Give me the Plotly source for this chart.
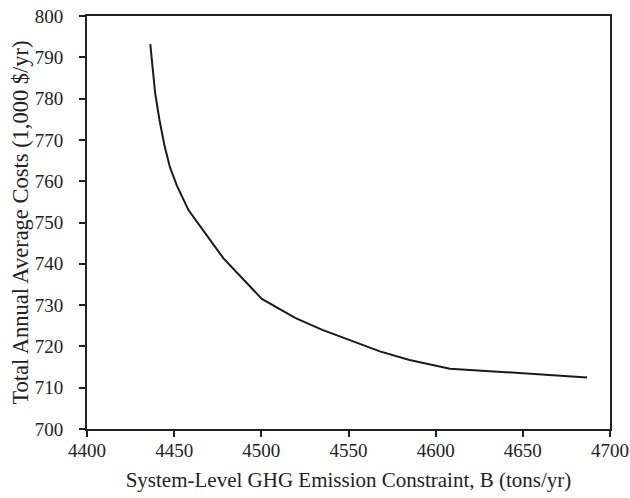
import plotly.graph_objects as go

emission = [4436.3, 4439.1, 4441.5, 4444.5, 4447.5, 4451.5, 4458.2, 4478.3, 4500.3,
            4519.4, 4535, 4550.9, 4568, 4585, 4608.2, 4686.9]
cost = [793.2, 781.3, 775.0, 768.5, 763.5, 759.0, 753.0, 741.3, 731.5,
        726.9, 724.0, 721.5, 718.8, 716.7, 714.6, 712.5]

x_ticks = [4400, 4450, 4500, 4550, 4600, 4650, 4700]
y_ticks = [700, 710, 720, 730, 740, 750, 760, 770, 780, 790, 800]

fig = go.Figure()
fig.add_trace(go.Scatter(x=emission, y=cost, mode="lines",
                         line=dict(color="#1a1a1a", width=2), showlegend=False))

font = dict(family="Liberation Serif", size=19, color="#222")
fig.update_layout(
    width=630, height=498,
    margin=dict(l=87, r=20, t=16, b=69, autoexpand=False),
    plot_bgcolor="white", paper_bgcolor="white",
    font=font,
    xaxis=dict(range=[4400, 4700], tickvals=x_ticks, showgrid=False, zeroline=False,
               showline=True, linecolor="#222", linewidth=2, mirror=True,
               ticks="outside", ticklen=6, tickwidth=2, tickcolor="#222",
               automargin=False, ticklabelstandoff=-3, ticklabeloverflow="allow",
               title=dict(text="System-Level GHG Emission Constraint, B (tons/yr)",
                          font=dict(family="Liberation Serif", size=21), standoff=13)),
    yaxis=dict(range=[700, 800], tickvals=y_ticks, showgrid=False, zeroline=False,
               showline=True, linecolor="#222", linewidth=2, mirror=True,
               ticks="outside", ticklen=6, tickwidth=2, tickcolor="#222",
               automargin=False, ticklabelstandoff=12, ticklabeloverflow="allow",
               title=dict(text="Total Annual Average Costs (1,000 $/yr)",
                          font=dict(family="Liberation Serif", size=22.5), standoff=0)),
)
fig.write_html("out.html", config={"displayModeBar": False},
               post_script="document.body.style.margin='0px';")
